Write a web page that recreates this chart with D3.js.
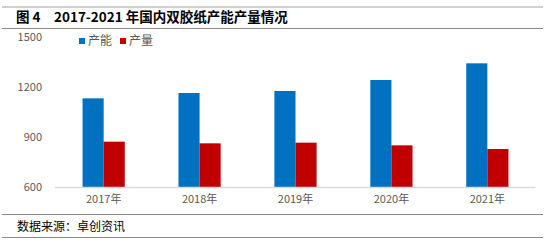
<!DOCTYPE html>
<html>
<head>
<meta charset="utf-8">
<script src="https://cdn.jsdelivr.net/npm/d3@7"></script>
<style>
  body { margin: 0; background: #fff; }
  svg { display: block; font-family: "Noto Sans CJK SC", "Liberation Sans", sans-serif; }
</style>
</head>
<body>
<script>
const years = ["2017年", "2018年", "2019年", "2020年", "2021年"]
const capacity = [1132, 1164, 1176, 1242, 1342]
const output = [872, 862, 866, 850, 828]
const seriesNames = ["产能", "产量"]
const yTicks = [600, 900, 1200, 1500]

const w = 551, h = 246
const colors = ["#0070C0", "#C00000"]

const svg = d3.select("body").append("svg")
  .attr("width", w)
  .attr("height", h)

// frame lines
svg.append("line")
  .attr("x1", 2).attr("x2", 543).attr("y1", 7).attr("y2", 7)
  .attr("stroke", "#d0d0d0").attr("stroke-width", 2)
svg.append("line")
  .attr("x1", 2).attr("x2", 543).attr("y1", 28.5).attr("y2", 28.5)
  .attr("stroke", "#8a8a8a").attr("stroke-width", 1)
svg.append("line")
  .attr("x1", 2).attr("x2", 543).attr("y1", 214.5).attr("y2", 214.5)
  .attr("stroke", "#8a8a8a").attr("stroke-width", 1)
svg.append("line")
  .attr("x1", 2).attr("x2", 543).attr("y1", 237.5).attr("y2", 237.5)
  .attr("stroke", "#8a8a8a").attr("stroke-width", 1)

svg.append("text")
  .attr("x", 16).attr("y", 22)
  .attr("font-size", 13.5).attr("font-weight", "bold").attr("fill", "#000")
  .text("图 4")
svg.append("text")
  .attr("x", 54).attr("y", 22)
  .attr("font-size", 13.5).attr("font-weight", "bold").attr("fill", "#000")
  .text("2017-2021 年国内双胶纸产能产量情况")

svg.append("text")
  .attr("x", 17).attr("y", 231)
  .attr("font-size", 12).attr("fill", "#000")
  .text("数据来源：卓创资讯")

const x = d3.scaleBand()
  .domain(years)
  .range([55.7, 535.3])
  .paddingInner(0.56)
  .paddingOuter(0.28)

const xs = d3.scaleBand()
  .domain(seriesNames)
  .range([0, x.bandwidth()])

const y = d3.scaleLinear()
  .domain([600, 1500])
  .range([187, 37])

// y labels
svg.append("g")
  .selectAll("text")
  .data(yTicks)
  .join("text")
  .attr("x", 42)
  .attr("y", d => y(d))
  .attr("dy", "0.35em")
  .attr("text-anchor", "end")
  .attr("font-size", 11)
  .attr("fill", "#595959")
  .text(d => d)

const data = [capacity, output]

const groups = svg.append("g")
  .selectAll("g")
  .data(years)
  .join("g")
  .attr("transform", d => `translate(${x(d)},0)`)

groups.selectAll("rect")
  .data((d, i) => data.map((s, k) => ({ name: seriesNames[k], v: s[i], k })))
  .join("rect")
  .attr("x", d => xs(d.name))
  .attr("width", xs.bandwidth())
  .attr("y", d => y(d.v))
  .attr("height", d => y(600) - y(d.v))
  .attr("fill", d => colors[d.k])

// baseline
svg.append("line")
  .attr("x1", 55).attr("x2", 535.5)
  .attr("y1", y(600) + 0.5).attr("y2", y(600) + 0.5)
  .attr("stroke", "#d9d9d9").attr("stroke-width", 1.5)

const xAxis = d3.axisBottom(x).tickSize(0).tickPadding(8)
const gx = svg.append("g")
  .attr("transform", `translate(0,${y(600)})`)
  .call(xAxis)
gx.select(".domain").remove()
gx.selectAll("text")
  .attr("font-size", 11)
  .attr("fill", "#595959")
  .attr("font-family", "Noto Sans CJK SC, sans-serif")

// legend
const legend = svg.append("g")
legend.selectAll("rect")
  .data(seriesNames)
  .join("rect")
  .attr("x", (d, i) => 79 + i * 41)
  .attr("y", 38)
  .attr("width", 6)
  .attr("height", 6)
  .attr("fill", (d, i) => colors[i])
legend.selectAll("text")
  .data(seriesNames)
  .join("text")
  .attr("x", (d, i) => 88 + i * 41)
  .attr("y", 41)
  .attr("dy", "0.35em")
  .attr("font-size", 12)
  .attr("fill", "#595959")
  .text(d => d)
</script>
</body>
</html>
